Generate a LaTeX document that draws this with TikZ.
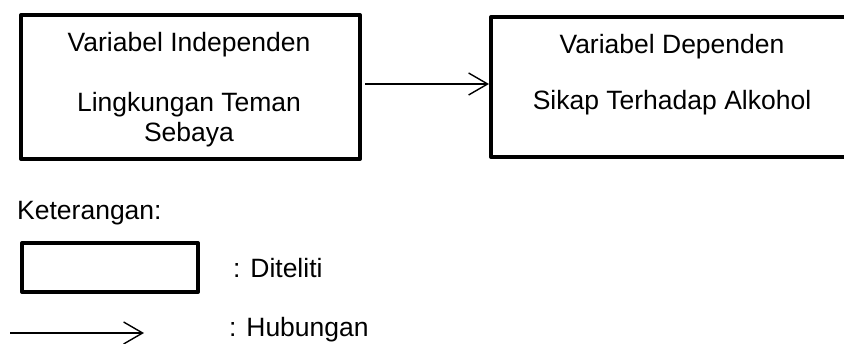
\documentclass[tikz,border=0pt]{standalone}
\usepackage{fontspec}
\setmainfont{Liberation Sans}
\usetikzlibrary{arrows.meta}
\tikzset{
  boxed/.style={draw=black, line width=4pt, line join=round, inner sep=0pt},
  txt/.style={font=\fontsize{26.5}{30}\selectfont, inner sep=0pt},
  rel/.style={line width=1.4pt, -{Straight Barb[length=19pt,width=22pt,line width=1.4pt]}}
}
\begin{document}
\begin{tikzpicture}[x=1pt,y=-1pt]
\useasboundingbox (0,0) rectangle (844,344);
\clip (0,0) rectangle (844,344);
% main boxes
\node[boxed, minimum width=339pt, minimum height=144pt] (ind) at (190.5,87) {};
\node[boxed, minimum width=362pt, minimum height=140pt] (dep) at (672,87) {};
% texts in boxes
\node[txt] (t1) at (189,45) {Variabel Independen};
\node[txt, align=center] (t2) at (189,120) {Lingkungan Teman\\Sebaya};
\node[txt] (t3) at (672,47) {Variabel Dependen};
\node[txt] (t4) at (672,103) {Sikap Terhadap Alkohol};
% connector
\coordinate (a1) at (365,84);
\coordinate (a2) at (489,84);
\draw[rel] (a1) -- (a2);
% legend
\node[txt, anchor=west] (ket) at (17,213) {Keterangan:};
\node[boxed, minimum width=176pt, minimum height=49pt] (lbox) at (110,267.5) {};
\node[txt, anchor=west] (ld) at (233,268) {: Diteliti};
\coordinate (l1) at (10,333);
\coordinate (l2) at (144,333);
\draw[rel] (l1) -- (l2);
\node[txt, anchor=west] (lh) at (229,330) {: Hubungan};
\end{tikzpicture}
\end{document}
